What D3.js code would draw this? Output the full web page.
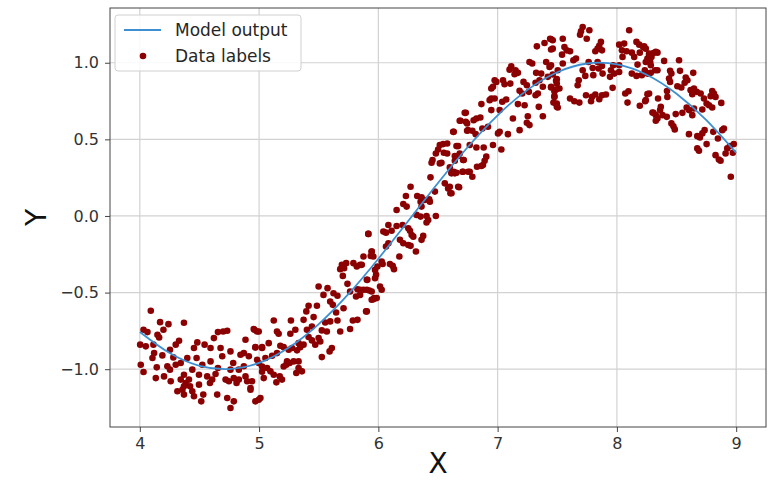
<!DOCTYPE html>
<html>
<head>
<meta charset="utf-8">
<script src="https://cdn.jsdelivr.net/npm/d3@7"></script>
<style>
  body { margin: 0; background: #fff; }
  text { font-family: "DejaVu Sans", sans-serif; }
</style>
</head>
<body>
<svg id="chart" width="776" height="480"></svg>
<script>
// Tick values shown on each axis
const xTicks = [4, 5, 6, 7, 8, 9];
const yTicks = [-1, -0.5, 0, 0.5, 1];

// Model output curve
const modelX = [4.00, 4.25, 4.50, 4.75, 5.00, 5.25, 5.50, 5.75, 6.00, 6.25, 6.50,
                6.75, 7.00, 7.25, 7.50, 7.75, 8.00, 8.25, 8.50, 8.75, 9.00];
const modelY = [-0.757, -0.895, -0.978, -0.999, -0.959, -0.859, -0.706, -0.509, -0.279, -0.033, 0.215,
                0.450, 0.657, 0.823, 0.938, 0.995, 0.989, 0.922, 0.798, 0.625, 0.412];

// Noisy labelled samples [x, y]
const dataPoints = [
  [4.092,-0.619],[4.170,-0.693],[4.240,-0.706],[4.370,-0.697],[4.198,-0.743],[4.031,-0.743],[4.064,-0.758],
  [4.148,-0.775],[4.162,-0.793],[4.003,-0.840],[4.050,-0.851],[4.114,-0.840],[4.329,-0.814],[4.301,-0.840],
  [4.120,-0.895],[4.106,-0.927],[4.189,-0.910],[4.253,-0.873],[4.281,-0.923],[4.008,-0.971],[4.031,-1.018],
  [4.142,-0.988],[4.231,-0.981],[4.253,-1.003],[4.301,-0.971],[4.343,-0.960],[4.398,-0.927],[4.454,-0.862],
  [4.482,-0.825],[4.543,-0.840],[4.476,-0.927],[4.524,-0.971],[4.593,-0.862],[4.621,-0.797],[4.655,-0.758],
  [4.699,-0.754],[4.733,-0.749],[4.677,-0.862],[4.691,-0.916],[4.593,-0.949],[4.655,-0.992],[4.760,-0.884],
  [4.783,-0.960],[4.844,-0.906],[4.872,-0.895],[4.914,-0.916],[4.886,-0.808],[4.961,-0.743],[4.983,-0.754],
  [4.969,-0.858],[5.025,-0.862],[4.997,-0.960],[4.872,-0.981],[4.830,-1.003],[4.760,-1.003],[4.635,-1.031],
  [4.565,-1.047],[4.496,-1.036],[4.440,-1.003],[4.370,-1.036],[4.343,-1.068],[4.384,-1.090],[4.412,-1.068],
  [4.259,-1.079],[4.203,-1.047],[4.134,-1.058],[4.315,-1.144],[4.357,-1.134],[4.370,-1.112],[4.421,-1.112],
  [4.440,-1.144],[4.496,-1.101],[4.588,-1.090],[4.607,-1.068],[4.532,-1.166],[4.515,-1.210],[4.454,-1.177],
  [4.649,-1.166],[4.719,-1.068],[4.747,-1.079],[4.788,-1.058],[4.811,-1.090],[4.830,-1.068],[4.886,-1.047],
  [4.900,-1.079],[4.928,-1.123],[4.733,-1.188],[4.760,-1.253],[4.788,-1.210],[4.969,-1.210],[4.997,-1.199],
  [5.025,-1.016],[4.370,-1.166],
  [5.916,-0.117],[5.944,-0.232],[5.936,-0.261],[5.694,-0.319],[5.713,-0.341],[5.730,-0.308],[5.680,-0.347],
  [5.791,-0.308],[5.819,-0.330],[5.861,-0.319],[5.702,-0.391],[5.903,-0.417],[5.972,-0.406],[5.741,-0.443],
  [5.499,-0.460],[5.574,-0.471],[5.540,-0.515],[5.624,-0.504],[5.657,-0.521],[5.825,-0.478],[5.875,-0.482],
  [5.925,-0.486],[5.763,-0.493],[5.813,-0.526],[5.847,-0.515],[5.964,-0.536],[5.944,-0.547],[5.596,-0.558],
  [5.618,-0.580],[5.708,-0.602],[5.415,-0.586],[5.485,-0.586],[5.396,-0.623],[5.457,-0.660],[5.646,-0.630],
  [5.897,-0.623],[5.123,-0.682],[5.267,-0.682],[5.373,-0.678],[5.554,-0.695],[5.596,-0.688],[5.657,-0.682],
  [5.786,-0.682],[5.825,-0.678],[5.443,-0.721],[5.401,-0.743],[4.955,-0.738],[4.997,-0.754],[5.150,-0.754],
  [5.164,-0.769],[5.262,-0.769],[5.304,-0.743],[5.526,-0.747],[5.568,-0.754],[5.680,-0.754],[5.763,-0.738],
  [5.415,-0.790],[5.443,-0.812],[5.499,-0.797],[5.513,-0.819],[5.081,-0.830],[5.331,-0.830],[5.373,-0.840],
  [5.345,-0.856],[5.471,-0.840],[4.969,-0.856],[5.025,-0.856],[5.178,-0.847],[5.206,-0.856],[5.248,-0.873],
  [5.276,-0.862],[5.318,-0.877],[5.610,-0.862],[5.591,-0.884],[5.526,-0.921],[5.150,-0.895],[5.109,-0.912],
  [4.983,-0.938],[5.053,-0.927],[5.234,-0.949],[5.256,-0.960],[5.290,-0.949],[5.331,-0.949],[5.206,-0.982],
  [5.228,-0.971],[5.331,-0.992],[5.359,-1.014],[5.312,-1.025],[5.025,-0.982],[5.067,-0.992],[5.095,-1.014],
  [5.123,-1.036],[5.039,-1.058],[5.173,-1.047],[5.192,-1.068],[5.145,-1.086],[4.941,-1.079],[5.011,-1.188],
  [4.928,-1.134],
  [6.733,0.673],[6.682,0.621],[6.744,0.604],[6.744,0.556],[6.632,0.549],[6.515,0.463],[6.543,0.469],
  [6.577,0.473],[6.501,0.434],[6.482,0.408],[6.549,0.413],[6.577,0.408],[6.669,0.456],[6.682,0.408],
  [6.641,0.391],[6.710,0.365],[6.454,0.365],[6.446,0.347],[6.515,0.343],[6.529,0.347],[6.632,0.289],
  [6.613,0.278],[6.655,0.282],[6.705,0.289],[6.752,0.289],[6.437,0.252],[6.557,0.213],[6.585,0.180],
  [6.604,0.148],[6.677,0.187],[6.270,0.191],[6.231,0.130],[6.326,0.130],[6.362,0.122],[6.354,0.093],
  [6.390,0.104],[6.426,0.109],[6.474,0.159],[6.153,0.039],[6.209,0.078],[6.237,0.061],[6.362,0.061],
  [6.320,0.007],[6.354,-0.004],[6.404,0.000],[6.418,-0.026],[6.404,-0.043],[6.482,0.000],[6.432,0.093],
  [6.084,-0.059],[6.153,-0.065],[6.042,-0.102],[6.064,-0.109],[6.111,-0.096],[6.203,-0.059],[6.251,-0.080],
  [6.265,-0.096],[6.279,-0.124],[6.293,-0.135],[5.916,-0.117],[6.376,-0.130],[6.362,-0.156],[6.181,-0.156],
  [6.209,-0.178],[6.251,-0.189],[6.270,-0.195],[6.064,-0.200],[6.084,-0.178],[6.315,-0.232],[5.944,-0.232],
  [5.958,-0.265],[6.176,-0.265],[5.875,-0.265],[5.847,-0.319],[6.028,-0.297],[6.036,-0.313],[6.097,-0.313],
  [6.120,-0.326],[6.131,-0.347],[5.992,-0.330],[5.972,-0.352],[5.981,-0.384],[5.908,-0.417],[5.847,-0.482],
  [5.903,-0.482],[5.944,-0.493],[6.014,-0.460],[6.028,-0.482],[5.986,-0.536],[5.958,-0.543],[5.903,-0.623],
  [7.440,1.157],[7.462,1.147],[7.393,1.129],[7.329,1.107],[7.448,1.086],[7.114,0.977],[7.100,0.955],
  [7.150,0.951],[7.170,0.934],[7.142,0.925],[7.267,1.005],[7.290,0.995],[7.407,1.005],[7.435,0.973],
  [6.975,0.886],[6.989,0.875],[7.045,0.886],[7.058,0.860],[7.106,0.864],[6.961,0.843],[6.947,0.832],
  [7.217,0.875],[7.245,0.853],[7.323,0.934],[7.365,0.929],[7.351,0.886],[7.318,0.869],[7.421,0.908],
  [7.490,0.882],[7.496,0.864],[7.448,0.838],[7.184,0.817],[7.206,0.799],[7.262,0.810],[7.337,0.799],
  [7.318,0.788],[7.379,0.843],[7.490,0.825],[7.476,0.782],[7.496,0.734],[7.504,0.708],[6.864,0.730],
  [6.947,0.767],[6.933,0.756],[6.975,0.767],[7.039,0.745],[7.072,0.760],[7.170,0.730],[7.226,0.723],
  [7.345,0.712],[7.017,0.691],[6.947,0.691],[7.128,0.636],[7.253,0.651],[7.245,0.608],[7.267,0.593],
  [7.379,0.651],[6.724,0.673],[6.688,0.621],[6.733,0.615],[6.799,0.625],[6.822,0.636],[6.855,0.643],
  [6.752,0.560],[6.788,0.556],[6.816,0.534],[6.872,0.571],[6.919,0.582],[6.627,0.549],[7.017,0.549],
  [7.003,0.539],[7.086,0.534],[7.184,0.560],[6.655,0.456],[6.766,0.463],[6.822,0.447],[6.883,0.447],
  [6.961,0.463],[7.031,0.434],[6.669,0.391],[6.641,0.360],[6.905,0.387],[6.891,0.360],[6.877,0.332],
  [6.827,0.321],[6.863,0.326],[6.716,0.365],[6.599,0.317],[6.613,0.282],[6.641,0.278],[6.710,0.289],
  [6.766,0.289],[6.788,0.256],[6.669,0.191],[6.599,0.191],[6.613,0.148],
  [7.713,1.233],[7.699,1.205],[7.769,1.212],[7.691,1.183],[7.747,1.157],[8.103,1.212],[7.448,1.153],
  [7.546,1.157],[7.462,1.092],[7.560,1.103],[7.579,1.081],[7.607,1.075],[7.540,1.053],[7.866,1.136],
  [7.852,1.110],[7.838,1.092],[7.819,1.075],[7.875,1.081],[8.019,1.118],[8.061,1.125],[8.164,1.136],
  [8.187,1.118],[8.220,1.103],[8.042,1.081],[8.081,1.075],[8.125,1.066],[8.192,1.066],[8.145,1.038],
  [8.047,1.038],[8.256,1.027],[8.270,1.053],[8.340,1.066],[7.657,1.027],[7.635,1.016],[7.763,1.005],
  [7.838,1.005],[8.019,0.984],[7.797,0.966],[7.847,0.962],[7.875,0.979],[7.969,0.984],[7.950,0.951],
  [7.942,0.908],[7.978,0.929],[8.173,0.988],[8.242,1.005],[8.284,0.984],[7.546,0.995],[7.448,0.984],
  [7.504,0.951],[7.462,0.923],[7.713,0.951],[7.735,0.914],[7.680,0.886],[7.802,0.919],[7.880,0.929],
  [8.019,0.940],[8.125,0.929],[8.164,0.914],[8.209,0.919],[8.270,0.929],[8.320,0.951],[7.496,0.893],
  [7.671,0.853],[7.518,0.832],[7.476,0.814],[7.448,0.843],[7.964,0.836],[8.097,0.814],[8.070,0.799],
  [7.819,0.793],[7.875,0.788],[7.908,0.793],[7.791,0.777],[7.741,0.788],[7.607,0.767],[7.643,0.749],
  [7.685,0.740],[7.783,0.749],[7.476,0.777],[7.468,0.740],[7.496,0.712],[7.852,0.762],[8.089,0.740],
  [8.192,0.719],[8.270,0.799],[8.237,0.749],[8.298,0.675],[8.326,0.658],
  [8.228,1.107],[8.242,1.092],[8.270,1.060],[8.306,1.064],[8.290,1.038],[8.326,1.071],[8.279,1.005],
  [8.396,1.012],[8.521,1.016],[8.234,0.951],[8.340,0.951],[8.284,0.934],[8.256,0.929],[8.446,0.947],
  [8.457,0.929],[8.529,0.947],[8.640,0.934],[8.437,0.897],[8.446,0.875],[8.577,0.903],[8.591,0.886],
  [8.568,0.869],[8.507,0.847],[8.540,0.838],[8.618,0.821],[8.646,0.832],[8.669,0.810],[8.702,0.799],
  [8.632,0.795],[8.420,0.816],[8.256,0.795],[8.242,0.756],[8.345,0.767],[8.423,0.777],[8.799,0.816],
  [8.813,0.799],[8.786,0.782],[8.827,0.777],[8.730,0.767],[8.752,0.734],[8.772,0.723],[8.799,0.708],
  [8.875,0.738],[8.585,0.708],[8.604,0.691],[8.646,0.701],[8.632,0.658],[8.549,0.673],[8.493,0.665],
  [8.716,0.695],[8.368,0.712],[8.362,0.691],[8.306,0.673],[8.382,0.658],[8.418,0.647],[8.340,0.636],
  [8.326,0.621],[8.457,0.604],[8.474,0.586],[8.485,0.565],[8.897,0.571],[8.883,0.560],[8.735,0.560],
  [8.716,0.539],[8.674,0.521],[8.696,0.512],[8.604,0.534],[8.808,0.549],[8.847,0.506],[8.980,0.469],
  [8.947,0.456],[8.925,0.441],[8.752,0.469],[8.674,0.441],[8.688,0.426],[8.911,0.408],[8.827,0.397],
  [8.855,0.369],[8.869,0.360],[8.972,0.413],[8.955,0.256]
];

const seriesNames = ["Model output", "Data labels"];
const axisNames = { x: "X", y: "Y" };

const lineColor = "#3d8fd1";
const dotColor = "#8b0000";

const svg = d3.select("#chart");
const frame = { left: 110, right: 766, top: 8, bottom: 427 };

// Axis limits: data extent padded by 5% on each side
function padded(ext) {
  const span = ext[1] - ext[0];
  return [ext[0] - span * 0.05, ext[1] + span * 0.05];
}
const allX = dataPoints.map(d => d[0]).concat(modelX);
const allY = dataPoints.map(d => d[1]).concat(modelY);

const x = d3.scaleLinear().domain(padded(d3.extent(allX))).range([frame.left, frame.right]);
const y = d3.scaleLinear().domain(padded(d3.extent(allY))).range([frame.bottom, frame.top]);

// Grid
const grid = svg.append("g").attr("stroke", "#d2d2d2").attr("stroke-width", 1.2);
grid.selectAll("line.vx").data(xTicks).join("line")
  .attr("x1", d => x(d)).attr("x2", d => x(d))
  .attr("y1", frame.top).attr("y2", frame.bottom);
grid.selectAll("line.hy").data(yTicks).join("line")
  .attr("x1", frame.left).attr("x2", frame.right)
  .attr("y1", d => y(d)).attr("y2", d => y(d));

// Data points
svg.append("g").selectAll("circle").data(dataPoints).join("circle")
  .attr("cx", d => x(d[0])).attr("cy", d => y(d[1]))
  .attr("r", 3.3).attr("fill", dotColor);

// Model curve
const line = d3.line().x((d, i) => x(modelX[i])).y(d => y(d)).curve(d3.curveNatural);
svg.append("path").datum(modelY)
  .attr("d", line).attr("fill", "none")
  .attr("stroke", lineColor).attr("stroke-width", 1.8);

// Axes
const xAxis = svg.append("g").attr("transform", `translate(0,${frame.bottom})`)
  .call(d3.axisBottom(x).tickValues(xTicks).tickFormat(d3.format("d")).tickSize(5).tickPadding(6));
const yAxis = svg.append("g").attr("transform", `translate(${frame.left},0)`)
  .call(d3.axisLeft(y).tickValues(yTicks).tickFormat(d3.format(".1f")).tickSize(5).tickPadding(6));
[xAxis, yAxis].forEach(g => {
  g.select(".domain").remove();
  g.selectAll(".tick line").attr("stroke", "#444").attr("stroke-width", 1);
  g.selectAll(".tick text").attr("fill", "#333")
    .style("font-family", "DejaVu Sans").style("font-size", "16px");
});

// Frame
svg.append("rect")
  .attr("x", frame.left).attr("y", frame.top)
  .attr("width", frame.right - frame.left).attr("height", frame.bottom - frame.top)
  .attr("fill", "none").attr("stroke", "#444").attr("stroke-width", 1);

// Axis titles
svg.append("text").attr("x", (frame.left + frame.right) / 2).attr("y", 473)
  .attr("text-anchor", "middle").attr("font-size", 28).attr("fill", "#111")
  .text(axisNames.x);
svg.append("text").attr("transform", `translate(46,${(frame.top + frame.bottom) / 2}) rotate(-90)`)
  .attr("text-anchor", "middle").attr("font-size", 28).attr("fill", "#111")
  .text(axisNames.y);

// Legend
const lg = svg.append("g");
lg.append("rect").attr("x", 115).attr("y", 15).attr("width", 186).attr("height", 56)
  .attr("rx", 3).attr("fill", "#fff").attr("fill-opacity", 0.85)
  .attr("stroke", "#d0d0d0").attr("stroke-width", 1);
lg.append("line").attr("x1", 124).attr("x2", 161).attr("y1", 30).attr("y2", 30)
  .attr("stroke", lineColor).attr("stroke-width", 1.8);
lg.append("circle").attr("cx", 143).attr("cy", 56).attr("r", 3.3).attr("fill", dotColor);
lg.selectAll("text").data(seriesNames).join("text")
  .attr("x", 175).attr("y", (d, i) => 30 + i * 26)
  .attr("dy", "0.35em").attr("font-size", 17).attr("fill", "#262626")
  .text(d => d);
</script>
</body>
</html>
